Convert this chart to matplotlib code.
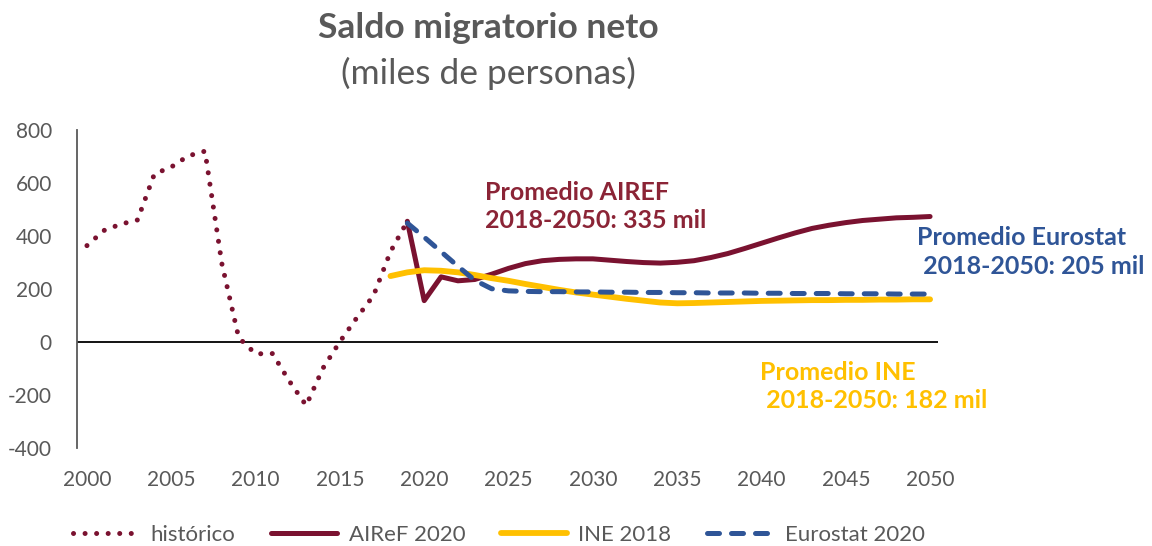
import numpy as np
import matplotlib
matplotlib.use("Agg")
import matplotlib.pyplot as plt

plt.rcParams["font.family"] = ["Lato", "DejaVu Sans"]
plt.rcParams["axes.unicode_minus"] = False

# ---------- datos (miles de personas) ----------
years_hist = list(range(2000, 2020))
historico = [363, 420, 444, 460, 634, 660, 702, 720, 295, 15,
             -46, -45, -149, -241, -100, 0, 90, 175, 340, 455]

years_airef = list(range(2019, 2051))
airef_2020 = [455, 155, 245, 230, 235, 255, 277, 295, 306, 311,
              313, 313, 308, 303, 299, 297, 300, 306, 318, 333,
              352, 372, 392, 411, 428, 440, 450, 458, 463, 468,
              470, 473]

years_ine = list(range(2018, 2051))
ine_2018 = [248, 262, 270, 268, 262, 252, 240, 230, 218, 207,
            196, 186, 178, 170, 162, 155, 148, 145, 146, 148,
            150, 152, 154, 155, 156, 157, 157, 158, 158, 159,
            159, 160, 160]

years_euro = list(range(2019, 2051))
eurostat_2020 = [448, 395, 340, 285, 232, 200, 192, 190, 189, 189,
                 188, 188, 187, 187, 186, 186, 185, 185, 184, 184,
                 184, 183, 183, 182, 182, 182, 181, 181, 181, 180,
                 180, 180]

xticks = list(range(2000, 2051, 5))
yticks = list(range(-400, 801, 200))

GRIS = "#595959"
GRANATE = "#7A1230"
AMARILLO = "#FFC000"
AZUL = "#2F5597"

fig = plt.figure(figsize=(11.52, 5.46), dpi=100)
ax = fig.add_axes([77 / 1152, 1 - 447.5 / 546, (938 - 77) / 1152, (447.5 - 130) / 546])

ax.plot(years_hist, historico, color=GRANATE, lw=3.6, linestyle=(0, (0.01, 2.3)),
        dash_capstyle="round", label="histórico")
ax.plot(years_airef, airef_2020, color=GRANATE, lw=3.6, solid_capstyle="round",
        label="AIReF 2020")
ax.plot(years_ine, ine_2018, color=AMARILLO, lw=4.2, solid_capstyle="round",
        label="INE 2018")
ax.plot(years_euro, eurostat_2020, color=AZUL, lw=3.6, linestyle=(0, (2.4, 2.4)),
        dash_capstyle="round", label="Eurostat 2020")

ax.axhline(0, color="black", lw=1.3, zorder=1)

ax.set_xlim(1999.41, 2050.47)
ax.set_ylim(-400, 800)
ax.set_xticks(xticks)
ax.set_yticks(yticks)
ax.tick_params(length=0, labelsize=15, labelcolor=GRIS)
ax.tick_params(axis="x", pad=16)
ax.tick_params(axis="y", pad=18)
for s in ["top", "right", "bottom"]:
    ax.spines[s].set_visible(False)
ax.spines["left"].set_color(GRIS)
ax.spines["left"].set_linewidth(1.3)

# ---------- textos ----------
fig.text(488 / 1152, 1 - 28 / 546, "Saldo migratorio neto", ha="center", va="center",
         fontsize=25.5, fontweight="bold", color=GRIS)
fig.text(488 / 1152, 1 - 73 / 546, "(miles de personas)", ha="center", va="center",
         fontsize=25.5, color=GRIS)

ax.text(2023.6, 511, "Promedio AIREF\n2018-2050: 335 mil", color="#8B2436",
        fontsize=18, fontweight="bold", va="center", ha="left", linespacing=1.3)
ax.text(2049.2, 340, "Promedio Eurostat\n 2018-2050: 205 mil", color=AZUL,
        fontsize=18, fontweight="bold", va="center", ha="left", linespacing=1.3)
ax.text(2039.9, -170, "Promedio INE\n 2018-2050: 182 mil", color=AMARILLO,
        fontsize=18, fontweight="bold", va="center", ha="left", linespacing=1.3)

fig.legend(loc="center", bbox_to_anchor=(0.433, 1 - 535 / 546), ncol=4, frameon=False,
           fontsize=16, labelcolor=GRIS, handlelength=3.0, columnspacing=1.6,
           handletextpad=0.5)

fig.savefig("out.png", dpi=100)
